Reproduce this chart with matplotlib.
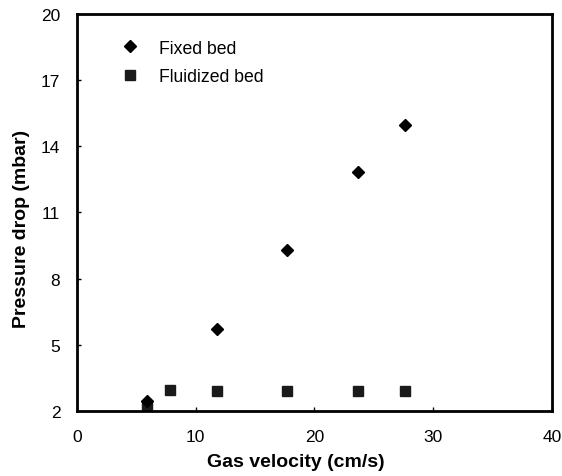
import matplotlib
matplotlib.use("Agg")
import matplotlib.pyplot as plt

fixed_x = [5.9, 11.8, 17.7, 23.7, 27.6]
fixed_y = [2.45, 5.7, 9.3, 12.85, 14.95]
fluid_x = [5.9, 7.8, 11.8, 17.7, 23.7, 27.6]
fluid_y = [2.25, 2.95, 2.9, 2.9, 2.9, 2.9]
yticks = [2, 5, 8, 11, 14, 17, 20]
xticks = [0, 10, 20, 30, 40]

plt.rcParams['font.family'] = ['Liberation Sans', 'DejaVu Sans']
fig = plt.figure(figsize=(5.62, 4.77), dpi=100)
ax = fig.add_axes([0.137, 0.136, 0.845, 0.833])
ax.plot(fluid_x, fluid_y, linestyle='none', marker='s', ms=7, color='#1a1a1a', label='Fluidized bed')
ax.plot(fixed_x, fixed_y, linestyle='none', marker='D', ms=6.5, color='black', label='Fixed bed')
ax.set_xlim(0, 40)
ax.set_ylim(2, 20)
ax.set_xticks(xticks)
ax.set_yticks(yticks)
ax.tick_params(direction='in', length=3, width=1, labelsize=12.5)
ax.tick_params(axis='y', pad=12)
ax.tick_params(axis='x', pad=13)
for s in ax.spines.values():
    s.set_linewidth(2)
ax.set_xlabel('Gas velocity (cm/s)', fontsize=14, fontweight='bold')
ax.set_ylabel('Pressure drop (mbar)', fontsize=14, fontweight='bold')
ax.xaxis.set_label_coords(0.46, -0.105)
ax.yaxis.set_label_coords(-0.10, 0.46)
h, l = ax.get_legend_handles_labels()
ax.legend([h[1], h[0]], [l[1], l[0]], loc='upper left', frameon=False, fontsize=12.7,
          bbox_to_anchor=(0.04, 0.975), handletextpad=0.65, labelspacing=0.65)
fig.savefig('out.png', dpi=100)
